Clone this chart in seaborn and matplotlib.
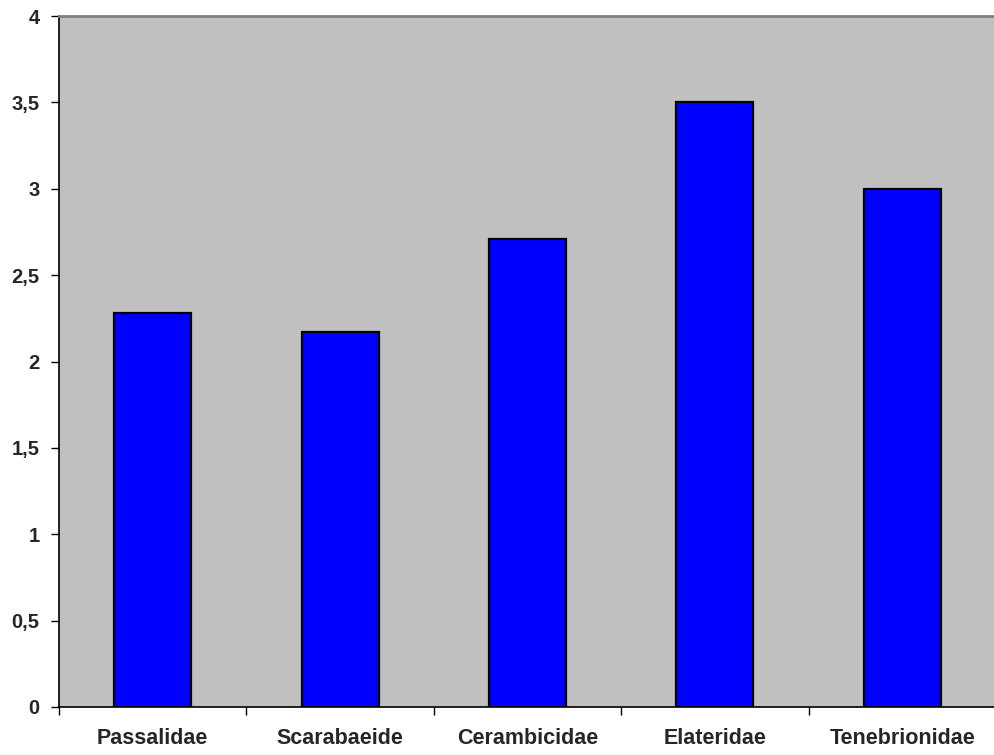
import matplotlib
matplotlib.use("Agg")
import matplotlib.pyplot as plt
import seaborn as sns
import pandas as pd

families = ["Passalidae", "Scarabaeide", "Cerambicidae", "Elateridae", "Tenebrionidae"]
values = [2.28, 2.17, 2.71, 3.50, 3.00]
y_ticks = [0, 0.5, 1, 1.5, 2, 2.5, 3, 3.5, 4]
y_tick_labels = ["0", "0,5", "1", "1,5", "2", "2,5", "3", "3,5", "4"]

df = pd.DataFrame({"family": families, "value": values})

sns.set_style("white")
plt.rcParams["font.family"] = ["Liberation Sans", "DejaVu Sans"]

fig = plt.figure(figsize=(9.95, 7.55), dpi=100)
ax = fig.add_axes([59 / 995, 48 / 755, 937 / 995, 691 / 755])
ax.set_facecolor("#C0C0C0")

sns.barplot(data=df, x="family", y="value", color="#0000FF", saturation=1,
            width=0.41, edgecolor="black", linewidth=1.6, ax=ax, zorder=3)

ax.set_xlim(-0.5, len(families) - 0.5)
ax.set_ylim(0, 4)
ax.set_xlabel("")
ax.set_ylabel("")

# category boundaries carry the tick marks, names sit at the centres
ax.set_xticks([i - 0.5 for i in range(len(families) + 1)])
ax.set_xticklabels([])
ax.set_xticks(range(len(families)), minor=True)
ax.set_xticklabels(families, minor=True, fontsize=15.5, fontweight="bold")
ax.tick_params(axis="x", which="major", direction="out", length=6, width=1,
               color="black", bottom=True)
ax.tick_params(axis="x", which="minor", length=0, pad=15)

ax.set_yticks(y_ticks)
ax.set_yticklabels(y_tick_labels, fontsize=14.5, fontweight="bold")
ax.tick_params(axis="y", direction="out", length=6, width=1, color="black",
               left=True, pad=8)

for side in ["left", "bottom"]:
    ax.spines[side].set_color("black")
    ax.spines[side].set_linewidth(1.2)
ax.spines["top"].set_color("#808080")
ax.spines["top"].set_linewidth(2)
ax.spines["right"].set_visible(False)

fig.savefig("out.png", dpi=100)
